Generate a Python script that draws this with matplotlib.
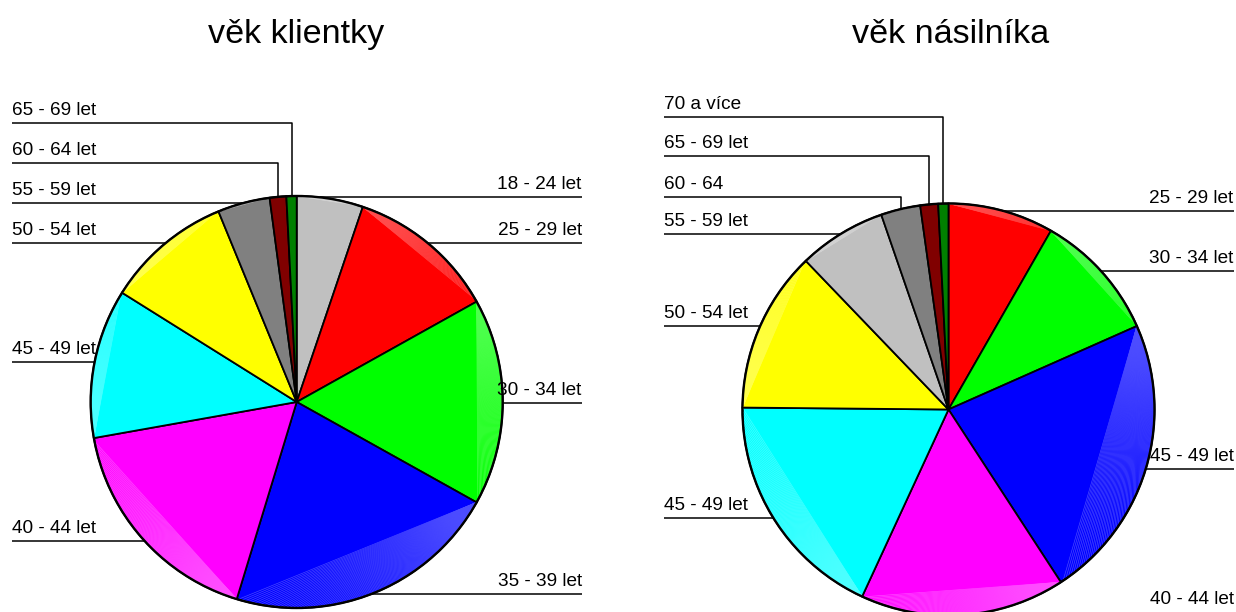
import numpy as np
import matplotlib
matplotlib.use("Agg")
import matplotlib.pyplot as plt
from matplotlib.collections import LineCollection
from matplotlib.patches import Circle
from matplotlib.colors import to_rgb

plt.rcParams['font.family'] = ['Liberation Sans', 'DejaVu Sans']

W, H = 1236, 612

# ---------------- data ----------------
left_title = "věk klientky"
left_labels = ["18 - 24 let", "25 - 29 let", "30 - 34 let", "35 - 39 let", "40 - 44 let",
               "45 - 49 let", "50 - 54 let", "55 - 59 let", "60 - 64 let", "65 - 69 let"]
left_values = [5.2, 11.7, 16.2, 21.6, 17.5, 11.7, 9.9, 4.1, 1.3, 0.8]
left_colors = ["#C0C0C0", "#FF0000", "#00FF00", "#0000FF", "#FF00FF",
               "#00FFFF", "#FFFF00", "#808080", "#800000", "#008000"]

right_title = "věk násilníka"
right_labels = ["25 - 29 let", "30 - 34 let", "45 - 49 let", "40 - 44 let", "45 - 49 let",
                "50 - 54 let", "55 - 59 let", "60 - 64", "65 - 69 let", "70 a více"]
right_values = [8.3, 10.1, 22.5, 16.1, 18.3, 12.7, 6.9, 3.1, 1.4, 0.8]
right_colors = ["#FF0000", "#00FF00", "#0000FF", "#FF00FF", "#00FFFF",
                "#FFFF00", "#C0C0C0", "#808080", "#800000", "#008000"]

# ---------------- layout (pixel coords, y from top) ----------------
left_geom = dict(cx=296.7, cy=402.0, r=206.0, xl=11.7, xr=581.7, title_x=296.0)
right_geom = dict(cx=948.5, cy=409.5, r=206.0, xl=663.5, xr=1233.5, title_x=951.0)
# (side, line y, mode) per slice
left_layout = [("R", 197.3, "edge"), ("R", 243.3, "edge"), ("R", 402.7, "edge"),
               ("R", 594.0, "edge"), ("L", 541.0, "edge"), ("L", 362.3, "edge"),
               ("L", 243.3, "edge"), ("L", 203.3, "edge"), ("L", 162.7, "vert"),
               ("L", 123.3, "vert")]
right_layout = [("R", 210.7, "edge"), ("R", 271.0, "edge"), ("R", 469.3, "edge"),
                ("R", 612.5, "none"), ("L", 518.3, "edge"), ("L", 325.7, "edge"),
                ("L", 234.3, "edge"), ("L", 196.7, "vert"), ("L", 156.0, "vert"),
                ("L", 117.3, "vert")]

fig = plt.figure(figsize=(W / 100, H / 100), dpi=100)
ax = fig.add_axes([0, 0, 1, 1])

LABEL_FS = 13.7
TITLE_FS = 24.6


def Y(y):
    return H - y


def lighten(c, f):
    r, g, b = to_rgb(c)
    return (r + (1 - r) * f, g + (1 - g) * f, b + (1 - b) * f)


def draw_pie(values, colors, labels, title, geom, layout):
    cx, cy, r = geom["cx"], geom["cy"], geom["r"]
    ax.pie(values, colors=colors, startangle=90, counterclock=False,
           center=(cx, Y(cy)), radius=r, frame=False,
           wedgeprops=dict(edgecolor="black", linewidth=1.3))
    total = float(sum(values))
    cum = np.concatenate([[0], np.cumsum(values)]) / total * 360.0  # clockwise from top

    # light fan shading in the circular segment of each slice
    segs, cols = [], []
    for i, c in enumerate(colors):
        a0, a1 = cum[i], cum[i + 1]
        p0 = (cx + r * np.sin(np.radians(a0)), Y(cy) + r * np.cos(np.radians(a0)))
        for a in np.arange(a0 + 0.9, a1, 0.9):
            p = (cx + r * np.sin(np.radians(a)), Y(cy) + r * np.cos(np.radians(a)))
            segs.append([p0, p])
            cols.append(lighten(c, 0.3))
    ax.add_collection(LineCollection(segs, colors=cols, linewidths=0.45, zorder=1.5))
    ax.add_patch(Circle((cx, Y(cy)), r, fill=False, edgecolor="black", linewidth=1.7, zorder=2))

    # labels with leader lines
    for i, (side, ly, mode) in enumerate(layout):
        amid = np.radians((cum[i] + cum[i + 1]) / 2)
        if side == "L":
            x_text = geom["xl"]
            ha = "left"
        else:
            x_text = geom["xr"]
            ha = "right"
        ax.text(x_text, Y(ly - 8), labels[i], ha=ha, va="baseline",
                fontsize=LABEL_FS, color="black", zorder=4)
        if mode == "edge":
            dy = ly - cy
            xe = cx + (-1 if side == "L" else 1) * np.sqrt(max(r * r - dy * dy, 0))
            ax.plot([x_text, xe], [Y(ly), Y(ly)], color="black", lw=1.1, zorder=3,
                    solid_capstyle="butt")
        elif mode == "vert":
            xv = cx + r * np.sin(amid)
            yb = cy - np.sqrt(max(r * r - (xv - cx) ** 2, 0))
            ax.plot([x_text, xv, xv], [Y(ly), Y(ly), Y(yb)], color="black", lw=1.1,
                    zorder=3, solid_capstyle="butt")

    ax.text(geom["title_x"], Y(42.7), title, ha="center", va="baseline",
            fontsize=TITLE_FS, color="black")


draw_pie(left_values, left_colors, left_labels, left_title, left_geom, left_layout)
draw_pie(right_values, right_colors, right_labels, right_title, right_geom, right_layout)

ax.set_xlim(0, W)
ax.set_ylim(0, H)
ax.set_aspect("auto")
ax.axis("off")

fig.savefig("out.png", dpi=100, facecolor="white")
